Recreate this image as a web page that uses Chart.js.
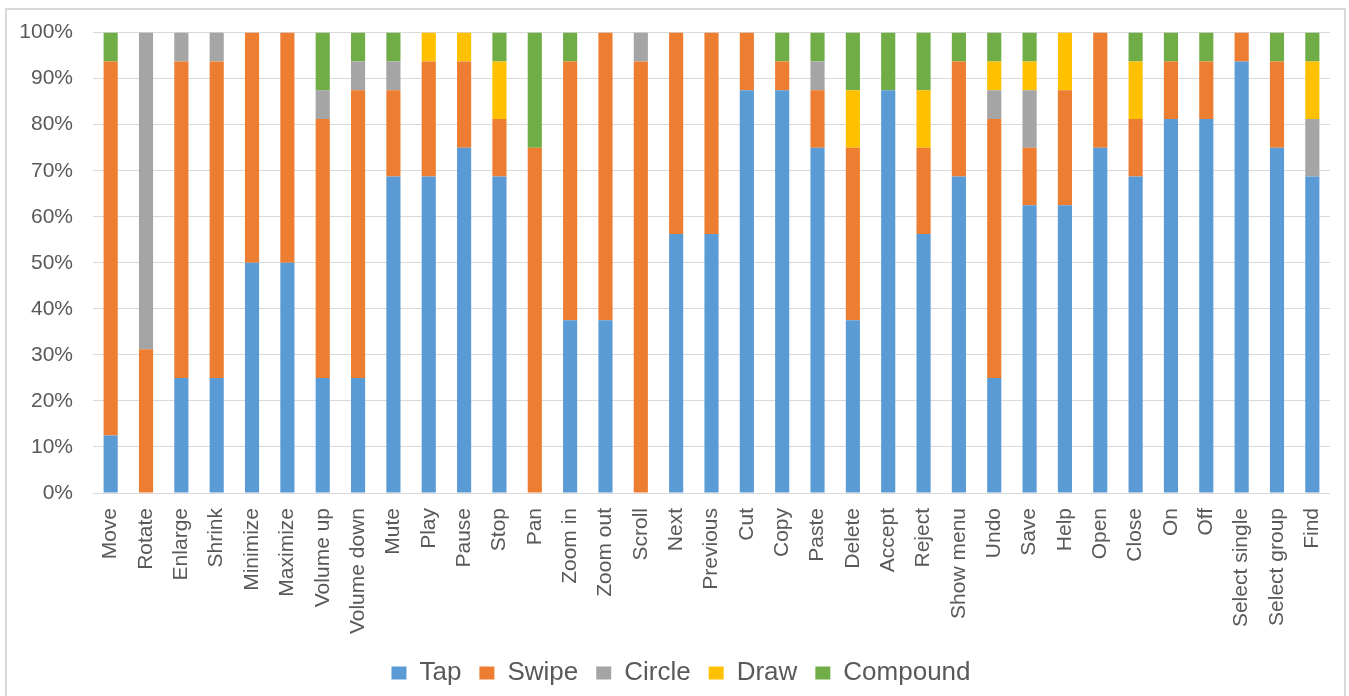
<!DOCTYPE html>
<html>
<head>
<meta charset="utf-8">
<script src="https://cdn.jsdelivr.net/npm/chart.js@4.4.1/dist/chart.umd.min.js"></script>
<style>
  html, body { margin: 0; padding: 0; background: #ffffff; }
  body { width: 1349px; height: 696px; position: relative; overflow: hidden; }
  #frame {
    position: absolute; left: 5px; top: 8px; width: 1341px; height: 700px;
    border: 2px solid #d9d9d9; box-sizing: border-box;
  }
  #wrap { position: absolute; left: 0; top: 0; width: 1349px; height: 696px; }
</style>
</head>
<body>
<div id="frame"></div>
<div id="wrap"><canvas id="chart" width="1349" height="696"></canvas></div>
<script>
// Gesture commands and the share of each gesture type chosen for them (%)
const commands = ["Move", "Rotate", "Enlarge", "Shrink", "Minimize", "Maximize", "Volume up",
  "Volume down", "Mute", "Play", "Pause", "Stop", "Pan", "Zoom in", "Zoom out", "Scroll",
  "Next", "Previous", "Cut", "Copy", "Paste", "Delete", "Accept", "Reject", "Show menu",
  "Undo", "Save", "Help", "Open", "Close", "On", "Off", "Select single", "Select group", "Find"];

const tap = [12.5, 0, 25, 25, 50, 50, 25, 25, 68.75, 68.75, 75, 68.75, 0, 37.5, 37.5, 0,
  56.25, 56.25, 87.5, 87.5, 75, 37.5, 87.5, 56.25, 68.75, 25, 62.5, 62.5, 75, 68.75,
  81.25, 81.25, 93.75, 75, 68.75];
const swipe = [81.25, 31.25, 68.75, 68.75, 50, 50, 56.25, 62.5, 18.75, 25, 18.75, 12.5, 75,
  56.25, 62.5, 93.75, 43.75, 43.75, 12.5, 6.25, 12.5, 37.5, 0, 18.75, 25, 56.25, 12.5, 25,
  25, 12.5, 12.5, 12.5, 6.25, 18.75, 0];
const circle = [0, 68.75, 6.25, 6.25, 0, 0, 6.25, 6.25, 6.25, 0, 0, 0, 0, 0, 0, 6.25, 0, 0,
  0, 0, 6.25, 0, 0, 0, 0, 6.25, 12.5, 0, 0, 0, 0, 0, 0, 0, 12.5];
const draw = [0, 0, 0, 0, 0, 0, 0, 0, 0, 6.25, 6.25, 12.5, 0, 0, 0, 0, 0, 0, 0, 0, 0, 12.5,
  0, 12.5, 0, 6.25, 6.25, 12.5, 0, 12.5, 0, 0, 0, 0, 12.5];
const compound = [6.25, 0, 0, 0, 0, 0, 12.5, 6.25, 6.25, 0, 0, 6.25, 25, 6.25, 0, 0, 0, 0, 0,
  6.25, 6.25, 12.5, 12.5, 12.5, 6.25, 6.25, 6.25, 0, 0, 6.25, 6.25, 6.25, 0, 6.25, 6.25];

const yTicks = [0, 10, 20, 30, 40, 50, 60, 70, 80, 90, 100];

const textColor = "#595959";
const gridColor = "#d9d9d9";
const fontFamily = "'Liberation Sans', Arial, sans-serif";

const series = [
  { label: "Tap", data: tap, color: "#5b9bd5" },
  { label: "Swipe", data: swipe, color: "#ed7d31" },
  { label: "Circle", data: circle, color: "#a5a5a5" },
  { label: "Draw", data: draw, color: "#ffc000" },
  { label: "Compound", data: compound, color: "#70ad47" }
];

// Nudges the legend row sideways so it sits centred under the whole frame
const legendShift = {
  id: "legendShift",
  afterLayout(chart) {
    const lg = chart.legend;
    if (lg) { lg.left += 16; lg.right += 16; }
  }
};

new Chart(document.getElementById("chart"), {
  type: "bar",
  data: {
    labels: commands,
    datasets: series.map(s => ({
      label: s.label,
      data: s.data,
      backgroundColor: s.color,
      borderWidth: 0,
      categoryPercentage: 1.0,
      barPercentage: 0.4
    }))
  },
  plugins: [legendShift],
  options: {
    responsive: false,
    animation: false,
    layout: { padding: { left: 0, right: 19, top: 30, bottom: 0 } },
    plugins: {
      tooltip: { enabled: false },
      legend: {
        position: "bottom",
        labels: {
          color: textColor,
          font: { family: fontFamily, size: 26 },
          boxWidth: 15,
          boxHeight: 13,
          padding: 18
        }
      }
    },
    scales: {
      x: {
        stacked: true,
        grid: { display: false },
        border: { display: false },
        ticks: {
          color: textColor,
          font: { family: fontFamily, size: 21 },
          minRotation: 90,
          maxRotation: 90,
          autoSkip: false,
          padding: 7
        },
        afterFit: (scale) => { scale.height = 149; }
      },
      y: {
        stacked: true,
        min: 0,
        max: 100,
        afterBuildTicks: (scale) => { scale.ticks = yTicks.map(v => ({ value: v })); },
        grid: { color: gridColor, lineWidth: 1, drawTicks: false },
        border: { display: false },
        ticks: {
          color: textColor,
          font: { family: fontFamily, size: 21 },
          padding: 20,
          callback: (v) => v + "%"
        },
        afterFit: (scale) => { scale.width = 93; }
      }
    }
  }
});
</script>
</body>
</html>
